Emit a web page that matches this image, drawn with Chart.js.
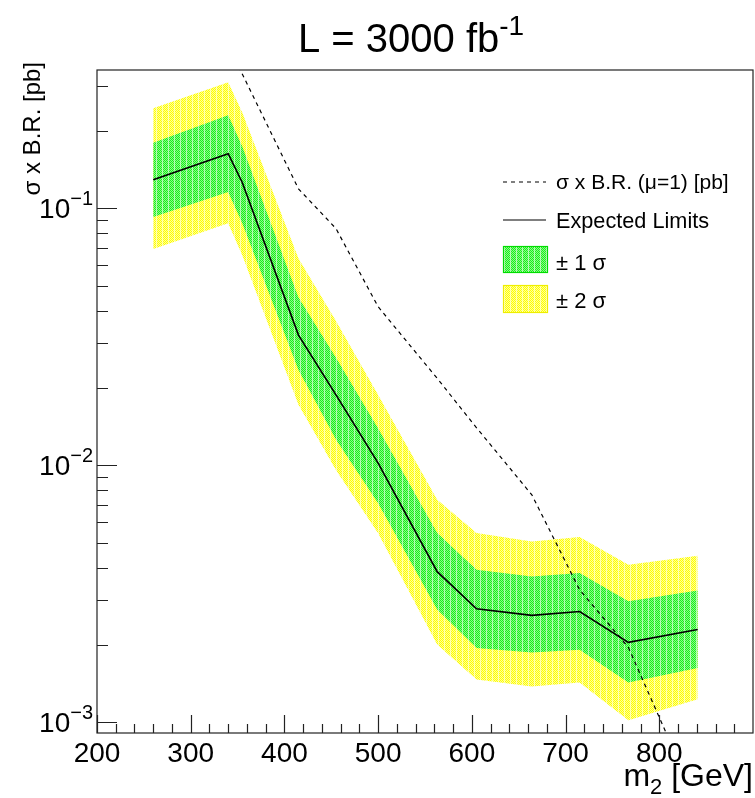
<!DOCTYPE html>
<html>
<head>
<meta charset="utf-8">
<script src="https://cdn.jsdelivr.net/npm/chart.js@4.4.1/dist/chart.umd.min.js"></script>
<style>
  html, body { margin: 0; padding: 0; background: #fff; }
  #wrap { width: 755px; height: 798px; }
</style>
</head>
<body>
<div id="wrap"><canvas id="limits" width="755" height="798"></canvas></div>
<script>
// masses [GeV] and limits [pb]
const masses = [260, 340, 355, 415, 455, 500, 563, 605, 664, 715, 767, 841];
const expected = [0.129, 0.163, 0.126, 0.0321, 0.0188, 0.0102, 0.00386, 0.00277, 0.00261, 0.0027, 0.00205, 0.0023];
const sigma1Up = [0.180, 0.230, 0.174, 0.045, 0.0262, 0.0139, 0.00546, 0.00393, 0.0037, 0.00381, 0.00296, 0.00326];
const sigma1Down = [0.0924, 0.1156, 0.0875, 0.0235, 0.0126, 0.00713, 0.00275, 0.00195, 0.00187, 0.00192, 0.00143, 0.00163];
const sigma2Up = [0.245, 0.309, 0.236, 0.0638, 0.0364, 0.0188, 0.00735, 0.00546, 0.00506, 0.00526, 0.00411, 0.00445];
const sigma2Down = [0.0694, 0.0875, 0.0656, 0.0172, 0.0096, 0.00545, 0.00201, 0.00147, 0.00138, 0.00143, 0.00102, 0.00123];
const theory = [1.3, 0.43, 0.333, 0.119, 0.0834, 0.0414, 0.0218, 0.0140, 0.00768, 0.00328, 0.00196, 0.00048];

// axis ticks
const xMajorTicks = [200, 300, 400, 500, 600, 700, 800];
const yDecades = [-3, -2, -1];

const FONT = '"Liberation Sans", Arial, sans-serif';

function pts(arr) {
    return masses.map((m, i) => ({ x: m, y: arr[i] }));
}

// ROOT-like dotted fill pattern
function makePattern(base, dot) {
    const c = document.createElement('canvas');
    c.width = 6; c.height = 2;
    const g = c.getContext('2d');
    g.fillStyle = base;
    g.fillRect(0, 0, 6, 2);
    g.fillStyle = dot;
    for (let x = 0; x < 6; x++) {
        for (let y = 0; y < 2; y++) {
            if ((x + y) % 2) g.fillRect(x, y, 1, 1);
        }
    }
    g.fillStyle = 'rgba(255,255,255,0.55)';
    g.fillRect(0, 0, 1, 2);
    return g.createPattern(c, 'repeat');
}

const greenFill = makePattern('#19f019', '#8cf88c');
const yellowFill = makePattern('#ffff00', '#ffff99');

// text with a superscript / subscript part
function drawText(ctx, parts, x, y, align) {
    let w = 0;
    parts.forEach(p => { ctx.font = p.size + 'px ' + FONT; w += ctx.measureText(p.t).width; });
    let cx = align === 'right' ? x - w : (align === 'center' ? x - w / 2 : x);
    parts.forEach(p => {
        ctx.font = p.size + 'px ' + FONT;
        ctx.fillText(p.t, cx, y + (p.dy || 0));
        cx += ctx.measureText(p.t).width;
    });
}

const decorations = {
    id: 'decorations',
    afterDraw(chart) {
        const ctx = chart.ctx;
        const a = chart.chartArea;
        const xs = chart.scales.x, ys = chart.scales.y;
        ctx.save();
        ctx.strokeStyle = '#222';
        ctx.fillStyle = '#000';
        ctx.lineWidth = 1.2;

        // frame
        ctx.strokeRect(a.left, a.top, a.right - a.left, a.bottom - a.top);

        // x ticks (inside)
        ctx.beginPath();
        for (let v = 200; v < 900; v += 20) {
            const px = Math.round(xs.getPixelForValue(v)) + 0.5;
            const len = v % 100 === 0 ? 18 : 9;
            ctx.moveTo(px, a.bottom);
            ctx.lineTo(px, a.bottom - len);
        }
        // y ticks (inside)
        yDecades.forEach(d => {
            for (let k = 1; k <= 9; k++) {
                const v = k * Math.pow(10, d);
                if (v < ys.min || v > ys.max) continue;
                const py = Math.round(ys.getPixelForValue(v)) + 0.5;
                const len = k === 1 ? 20 : 11;
                ctx.moveTo(a.left, py);
                ctx.lineTo(a.left + len, py);
            }
        });
        ctx.stroke();

        // x tick labels
        ctx.textBaseline = 'alphabetic';
        xMajorTicks.forEach(v => {
            drawText(ctx, [{ t: String(v), size: 28 }], xs.getPixelForValue(v), a.bottom + 29, 'center');
        });
        // y tick labels
        yDecades.forEach(d => {
            const py = ys.getPixelForValue(Math.pow(10, d));
            drawText(ctx, [{ t: '10', size: 28 }, { t: '\u2212' + Math.abs(d), size: 20, dy: -13 }], a.left - 4, py + 10, 'right');
        });

        // title
        drawText(ctx, [{ t: 'L = 3000 fb', size: 40 }, { t: '-1', size: 28, dy: -17 }], 298, 52, 'left');

        // axis titles
        drawText(ctx, [{ t: 'm', size: 32 }, { t: '2', size: 22, dy: 8 }, { t: ' [GeV]', size: 32 }], a.right, 786, 'right');
        ctx.save();
        ctx.translate(40, 62);
        ctx.rotate(-Math.PI / 2);
        drawText(ctx, [{ t: '\u03C3 x B.R. [pb]', size: 24 }], 0, 0, 'right');
        ctx.restore();

        // legend
        ctx.lineWidth = 1.2;
        ctx.strokeStyle = '#000';
        ctx.setLineDash([4, 4]);
        ctx.beginPath(); ctx.moveTo(503, 182); ctx.lineTo(546, 182); ctx.stroke();
        ctx.setLineDash([]);
        ctx.beginPath(); ctx.moveTo(503, 220); ctx.lineTo(546, 220); ctx.stroke();
        ctx.fillStyle = greenFill; ctx.fillRect(503, 246, 45, 27);
        ctx.strokeStyle = '#00dd00'; ctx.strokeRect(503.5, 246.5, 44, 26);
        ctx.fillStyle = yellowFill; ctx.fillRect(503, 285, 45, 28);
        ctx.strokeStyle = '#eeee00'; ctx.strokeRect(503.5, 285.5, 44, 27);
        ctx.fillStyle = '#000';
        drawText(ctx, [{ t: '\u03C3 x B.R. (\u03BC=1) [pb]', size: 21 }], 556, 189, 'left');
        drawText(ctx, [{ t: 'Expected Limits', size: 21.7 }], 556, 228, 'left');
        drawText(ctx, [{ t: '\u00B1 1 \u03C3', size: 22 }], 556, 270, 'left');
        drawText(ctx, [{ t: '\u00B1 2 \u03C3', size: 22 }], 556, 308, 'left');
        ctx.restore();
    }
};

new Chart(document.getElementById('limits'), {
    type: 'line',
    data: {
        datasets: [
            { label: 'theory', data: pts(theory), borderColor: '#000', borderWidth: 1.2, borderDash: [4, 4], pointRadius: 0, fill: false },
            { label: 'Expected Limits', data: pts(expected), borderColor: '#000', borderWidth: 1.6, pointRadius: 0, fill: false },
            { label: '1s up', data: pts(sigma1Up), borderWidth: 0, borderColor: 'rgba(0,0,0,0)', pointRadius: 0, backgroundColor: greenFill, fill: 3 },
            { label: '1s down', data: pts(sigma1Down), borderWidth: 0, borderColor: 'rgba(0,0,0,0)', pointRadius: 0, fill: false },
            { label: '2s up', data: pts(sigma2Up), borderWidth: 0, borderColor: 'rgba(0,0,0,0)', pointRadius: 0, backgroundColor: yellowFill, fill: 5 },
            { label: '2s down', data: pts(sigma2Down), borderWidth: 0, borderColor: 'rgba(0,0,0,0)', pointRadius: 0, fill: false }
        ]
    },
    options: {
        responsive: false,
        animation: false,
        layout: { padding: { left: 97, right: 2, top: 70, bottom: 65 } },
        plugins: { legend: { display: false }, tooltip: { enabled: false } },
        elements: { line: { tension: 0 } },
        scales: {
            x: { type: 'linear', min: 200, max: 900, display: false },
            y: { type: 'logarithmic', min: 9.1e-4, max: 0.345, display: false }
        }
    },
    plugins: [decorations]
});
</script>
</body>
</html>
